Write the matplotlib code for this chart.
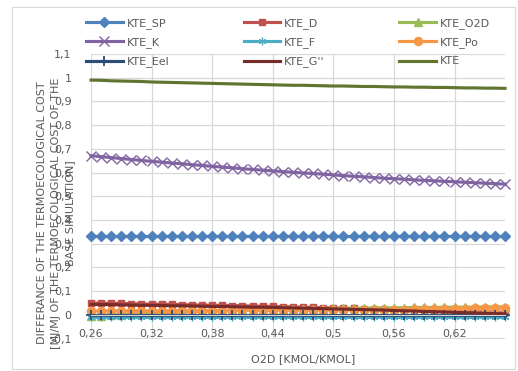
import matplotlib
matplotlib.use("Agg")
import matplotlib.pyplot as plt
from matplotlib.patches import Rectangle

# O2D [kmol/kmol]
o2d = [0.26, 0.27, 0.28, 0.29, 0.30, 0.31, 0.32, 0.33, 0.34, 0.35, 0.36, 0.37, 0.38, 0.39,
       0.40, 0.41, 0.42, 0.43, 0.44, 0.45, 0.46, 0.47, 0.48, 0.49, 0.50, 0.51, 0.52, 0.53,
       0.54, 0.55, 0.56, 0.57, 0.58, 0.59, 0.60, 0.61, 0.62, 0.63, 0.64, 0.65, 0.66, 0.67]

kte_sp = [0.333, 0.333, 0.333, 0.333, 0.333, 0.333, 0.333, 0.333, 0.333, 0.333, 0.333, 0.333, 0.333, 0.333,
          0.333, 0.333, 0.333, 0.333, 0.333, 0.333, 0.333, 0.333, 0.333, 0.333, 0.333, 0.333, 0.333, 0.333,
          0.333, 0.333, 0.333, 0.333, 0.333, 0.333, 0.333, 0.333, 0.333, 0.333, 0.333, 0.333, 0.333, 0.333]
kte_d = [0.050, 0.049, 0.049, 0.048, 0.047, 0.046, 0.045, 0.045, 0.044, 0.043, 0.042, 0.041, 0.040, 0.040,
         0.039, 0.038, 0.037, 0.036, 0.035, 0.034, 0.033, 0.032, 0.031, 0.030, 0.029, 0.028, 0.027, 0.026,
         0.024, 0.023, 0.022, 0.021, 0.020, 0.019, 0.018, 0.017, 0.016, 0.015, 0.013, 0.012, 0.011, 0.010]
kte_o2d = [-0.005, -0.003, -0.001, 0.001, 0.003, 0.005, 0.007, 0.009, 0.010, 0.012, 0.013, 0.015, 0.016, 0.017,
           0.018, 0.019, 0.020, 0.021, 0.022, 0.023, 0.024, 0.025, 0.026, 0.026, 0.027, 0.027, 0.028, 0.028,
           0.029, 0.029, 0.030, 0.030, 0.031, 0.031, 0.031, 0.032, 0.032, 0.032, 0.033, 0.033, 0.033, 0.033]
kte_k = [0.671, 0.667, 0.663, 0.659, 0.655, 0.651, 0.647, 0.644, 0.640, 0.637, 0.633, 0.630, 0.626, 0.623,
         0.620, 0.616, 0.613, 0.610, 0.607, 0.604, 0.601, 0.598, 0.596, 0.593, 0.590, 0.587, 0.584, 0.582,
         0.579, 0.576, 0.574, 0.572, 0.569, 0.567, 0.565, 0.563, 0.561, 0.559, 0.557, 0.555, 0.553, 0.551]
kte_f = [-0.008, -0.008, -0.008, -0.008, -0.008, -0.008, -0.008, -0.008, -0.008, -0.008, -0.008, -0.008, -0.008, -0.008,
         -0.008, -0.008, -0.008, -0.008, -0.008, -0.008, -0.008, -0.008, -0.008, -0.008, -0.008, -0.008, -0.008, -0.008,
         -0.008, -0.008, -0.008, -0.008, -0.008, -0.008, -0.008, -0.008, -0.008, -0.008, -0.008, -0.008, -0.008, -0.008]
kte_po = [0.016, 0.016, 0.016, 0.017, 0.017, 0.017, 0.017, 0.017, 0.018, 0.018, 0.018, 0.018, 0.018, 0.018,
          0.018, 0.019, 0.019, 0.019, 0.019, 0.019, 0.019, 0.019, 0.019, 0.020, 0.020, 0.020, 0.020, 0.021,
          0.021, 0.021, 0.022, 0.022, 0.023, 0.023, 0.024, 0.024, 0.025, 0.026, 0.027, 0.028, 0.029, 0.030]
kte_eel = [-0.002, -0.002, -0.002, -0.002, -0.002, -0.002, -0.002, -0.002, -0.002, -0.002, -0.002, -0.002, -0.002, -0.002,
           -0.002, -0.002, -0.002, -0.002, -0.002, -0.002, -0.002, -0.002, -0.002, -0.002, -0.002, -0.002, -0.002, -0.002,
           -0.002, -0.002, -0.002, -0.002, -0.002, -0.002, -0.002, -0.002, -0.002, -0.002, -0.002, -0.002, -0.002, -0.002]
kte_g = [0.044, 0.043, 0.043, 0.042, 0.041, 0.040, 0.040, 0.039, 0.038, 0.038, 0.037, 0.036, 0.035, 0.035,
         0.034, 0.033, 0.032, 0.032, 0.031, 0.030, 0.029, 0.028, 0.027, 0.026, 0.025, 0.024, 0.023, 0.022,
         0.021, 0.020, 0.018, 0.017, 0.016, 0.014, 0.013, 0.012, 0.010, 0.009, 0.008, 0.006, 0.005, 0.004]
kte = [0.990, 0.989, 0.987, 0.986, 0.985, 0.984, 0.982, 0.981, 0.980, 0.979, 0.978, 0.977, 0.976, 0.975,
       0.974, 0.973, 0.972, 0.971, 0.970, 0.969, 0.968, 0.968, 0.967, 0.966, 0.965, 0.965, 0.964, 0.963,
       0.963, 0.962, 0.961, 0.961, 0.960, 0.960, 0.959, 0.959, 0.958, 0.957, 0.957, 0.956, 0.956, 0.955]

x_ticks = [0.26, 0.32, 0.38, 0.44, 0.50, 0.56, 0.62]
x_tick_labels = ["0,26", "0,32", "0,38", "0,44", "0,5", "0,56", "0,62"]
y_ticks = [-0.1, 0.0, 0.1, 0.2, 0.3, 0.4, 0.5, 0.6, 0.7, 0.8, 0.9, 1.0, 1.1]
y_tick_labels = ["-0,1", "0", "0,1", "0,2", "0,3", "0,4", "0,5", "0,6", "0,7", "0,8", "0,9", "1", "1,1"]

TXT = "#595959"
GRID = "#d9d9d9"

W, H = 518, 371
fig = plt.figure(figsize=(W / 100, H / 100), dpi=100)
fig.patches.append(Rectangle((12 / W, 2 / H), 503 / W, 362 / H, transform=fig.transFigure,
                             fill=False, edgecolor=GRID, linewidth=0.8))
ax = fig.add_axes([91 / W, 1 - 338.5 / H, (505 - 91) / W, (338.5 - 54) / H])

series = [
    ("KTE_SP", kte_sp, "#4F81BD", "D", 5.2, {}),
    ("KTE_D", kte_d, "#C0504D", "s", 5.0, {}),
    ("KTE_O2D", kte_o2d, "#9BBB59", "^", 5.5, {}),
    ("KTE_K", kte_k, "#8064A2", "x", 6.5, {"markeredgewidth": 1.0}),
    ("KTE_F", kte_f, "#4BACC6", (6, 2, 0), 5.5, {"markeredgewidth": 0.9}),
    ("KTE_Po", kte_po, "#F79646", "o", 5.8, {}),
    ("KTE_Eel", kte_eel, "#2C4D75", "+", 7.5, {"markeredgewidth": 1.3}),
    ("KTE_G''", kte_g, "#772C2A", None, 0, {}),
    ("KTE", kte, "#5F7530", None, 0, {}),
]

handles = {}
for name, vals, col, mk, ms, extra in series:
    ln, = ax.plot(o2d, vals, color=col, lw=2.25, marker=mk, markersize=ms,
                  markerfacecolor=col, markeredgecolor=col, clip_on=False, **extra)
    handles[name] = ln

ax.set_xlim(0.26, 0.67)
ax.set_ylim(-0.1, 1.1)
ax.set_xticks(x_ticks)
ax.set_xticklabels(x_tick_labels)
ax.set_yticks(y_ticks)
ax.set_yticklabels(y_tick_labels)
ax.grid(True, color=GRID, linewidth=0.9)
ax.set_axisbelow(True)
for s in ["top", "right", "left"]:
    ax.spines[s].set_visible(False)
ax.spines["bottom"].set_position(("data", 0))
ax.spines["bottom"].set_color(GRID)
ax.tick_params(axis="both", length=0, colors=TXT, labelsize=8)
ax.tick_params(axis="x", pad=10)
ax.tick_params(axis="y", pad=14)

# excel fills the legend row by row, matplotlib column by column
order = ["KTE_SP", "KTE_K", "KTE_Eel", "KTE_D", "KTE_F", "KTE_G''", "KTE_O2D", "KTE_Po", "KTE"]
leg = fig.legend([handles[n] for n in order], order, ncol=3, frameon=False,
                 loc="upper left", bbox_to_anchor=(86 / W, 1 - 18 / H),
                 fontsize=8, handlelength=3.3, handletextpad=0.35, columnspacing=6.7,
                 labelspacing=0.75, borderpad=0, borderaxespad=0)
for t in leg.get_texts():
    t.set_color(TXT)

fig.text(303 / W, 1 - 359 / H, "O2D [KMOL/KMOL]", ha="center", va="center", fontsize=8, color=TXT)
fig.text(56 / W, 1 - 213 / H,
         "DIFFERANCE OF THE TERMOECOLOGICAL COST\n[MJ/MJ OF THE TERMOECOLOGICAL COST OF THE\nBASE SIMULATION]",
         rotation=90, ha="center", va="center", multialignment="center",
         fontsize=8, color=TXT, linespacing=1.45)

fig.savefig("out.png", dpi=100)
